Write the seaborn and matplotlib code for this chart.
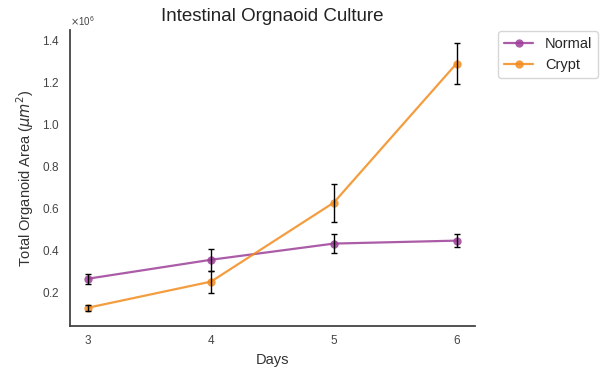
import numpy as np
import matplotlib
matplotlib.use("Agg")
import matplotlib.pyplot as plt
import pandas as pd
import seaborn as sns

days = [3, 4, 5, 6]
normal_mean = [0.262e6, 0.352e6, 0.429e6, 0.443e6]
normal_err = [0.024e6, 0.052e6, 0.045e6, 0.030e6]
crypt_mean = [0.124e6, 0.248e6, 0.624e6, 1.286e6]
crypt_err = [0.014e6, 0.052e6, 0.090e6, 0.098e6]

colors = {"Normal": "#9d3f98", "Crypt": "#f28c1e"}

sns.set_style("white")
plt.rcParams['font.family'] = ['Liberation Sans', 'DejaVu Sans']

df = pd.DataFrame({
    "Days": days * 2,
    "Area": normal_mean + crypt_mean,
    "Err": normal_err + crypt_err,
    "Group": ["Normal"] * 4 + ["Crypt"] * 4,
})

fig, ax = plt.subplots(figsize=(6.02, 3.71), dpi=100)
sns.lineplot(data=df, x="Days", y="Area", hue="Group", palette=colors,
             marker="o", markersize=6, markeredgewidth=0, linewidth=1.6,
             alpha=0.85, ax=ax)
for name, g in df.groupby("Group"):
    ax.errorbar(g["Days"], g["Area"], yerr=g["Err"], fmt="none",
                ecolor="black", elinewidth=1, capsize=2, capthick=1)

ax.set_xlim(2.85, 6.15)
ax.set_ylim(0.038e6, 1.447e6)
ax.set_xticks(days)
ax.set_yticks([0.2e6, 0.4e6, 0.6e6, 0.8e6, 1.0e6, 1.2e6, 1.4e6])
ax.ticklabel_format(style='sci', axis='y', scilimits=(0, 0), useMathText=True)
ax.yaxis.get_offset_text().set_fontsize(7)
ax.tick_params(labelsize=8.5, colors="#444444")
ax.set_xlabel("Days", fontsize=10.5, color="#333333")
ax.set_ylabel(r"Total Organoid Area ($\mu m^2$)", fontsize=10.5, color="#333333")
ax.set_title("Intestinal Orgnaoid Culture", fontsize=13.5, color="#222222")
sns.despine(ax=ax)
for s in ["left", "bottom"]:
    ax.spines[s].set_color("#444444")
    ax.spines[s].set_linewidth(1.3)

ax.legend(loc="upper left", bbox_to_anchor=(1.04, 1.02), fontsize=10.5,
          title=None, frameon=True)

fig.subplots_adjust(left=0.116, right=0.789, top=0.92, bottom=0.122)
fig.savefig("out.png", dpi=100)
